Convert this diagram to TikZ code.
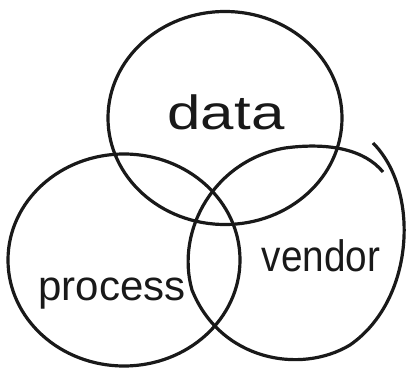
\documentclass[tikz,border=0pt]{standalone}
\usepackage{fontspec}
\setmainfont{Liberation Sans}
\usetikzlibrary{shapes.geometric}
\begin{document}
\begin{tikzpicture}[x=1pt,y=-1pt,
  ring/.style={draw=black!90, line width=3.2pt},
  word/.style={inner sep=0pt, anchor=base, text=black!90}]
\useasboundingbox (0,0) rectangle (410,377);
\node[ring, ellipse, minimum width=234pt, minimum height=213pt, inner sep=0pt] (datac) at (225,118) {};
\node[ring, ellipse, minimum width=232pt, minimum height=212pt, inner sep=0pt] (procc) at (124,260) {};
\draw[ring] (373,143) .. controls (420,190) and (415,300) .. (350,345)
  .. controls (300,375) and (220,360) .. (192,290)
  .. controls (175,230) and (215,160) .. (285,148)
  .. controls (330,142) and (365,150) .. (383,172);
\node[word, font=\fontsize{48}{52}\selectfont, xscale=1.25] (data) at (226,130) {data};
\node[word, font=\fontsize{44}{48}\selectfont, xscale=0.88] (vendor) at (321,271) {vendor};
\node[word, font=\fontsize{42}{46}\selectfont] (process) at (112,300) {process};
\end{tikzpicture}
\end{document}
